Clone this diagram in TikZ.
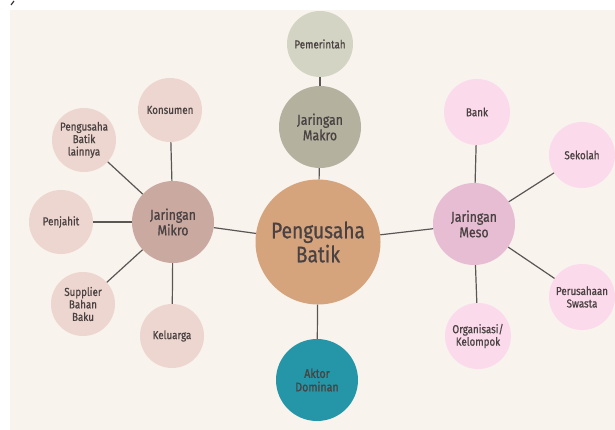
\documentclass[tikz,border=0pt]{standalone}
\usepackage{fontspec}
\setmainfont{Fira Sans}[FakeStretch=0.85, FakeBold=0.8]
\definecolor{bgc}{HTML}{F8F3ED}
\definecolor{linec}{HTML}{5A5654}
\definecolor{txtc}{HTML}{4A4242}
\definecolor{pemc}{HTML}{D4D4C4}
\definecolor{makc}{HTML}{B4B29F}
\definecolor{pbc}{HTML}{D5A47D}
\definecolor{akc}{HTML}{2496A8}
\definecolor{mikc}{HTML}{CAA9A1}
\definecolor{mikl}{HTML}{EED6D0}
\definecolor{mesc}{HTML}{E7BDD3}
\definecolor{mesl}{HTML}{FBDAEB}
\tikzset{
  bub/.style={circle, inner sep=0pt, align=center, text=txtc, font=\fontsize{11.5}{12.5}\selectfont},
  mikleaf/.style={bub, fill=mikl, minimum size=64pt},
  mesleaf/.style={bub, fill=mesl, minimum size=66pt},
  hub/.style={bub, minimum size=82pt, font=\fontsize{14.5}{15.5}\selectfont},
  link/.style={draw=linec, line width=1.2pt}
}
\begin{document}
\begin{tikzpicture}[x=1pt,y=-1pt]
\useasboundingbox (0,0) rectangle (615,430);
\fill[bgc] (10,10) rectangle (615,430);
\draw[line width=1.2pt, black!80] (11,5) -- (14,1);
% center
\node[bub, fill=pbc, minimum size=125pt, font=\fontsize{22.5}{24}\selectfont] (pb) at (318,242) {Pengusaha\\Batik};
% makro
\node[hub, fill=makc] (mak) at (320,127) {Jaringan\\Makro};
\node[bub, fill=pemc, minimum size=66pt] (pem) at (320,44) {Pemerintah};
% aktor
\node[bub, fill=akc, minimum size=82pt, font=\fontsize{12.5}{13.5}\selectfont] (ak) at (317,380) {Aktor\\Dominan};
% mikro
\node[hub, fill=mikc] (mik) at (173,222) {Jaringan\\Mikro};
\node[mikleaf] (kon) at (170,110) {Konsumen};
\node[mikleaf] (pbl) at (84,140) {Pengusaha\\Batik\\lainnya};
\node[mikleaf] (pen) at (61,222) {Penjahit};
\node[mikleaf] (sup) at (83,304) {Supplier\\Bahan\\Baku};
\node[mikleaf] (kel) at (172,336) {Keluarga};
% meso
\node[hub, fill=mesc] (mes) at (474,224) {Jaringan\\Meso};
\node[mesleaf] (bank) at (477,112) {Bank};
\node[mesleaf] (sek) at (582,155) {Sekolah};
\node[mesleaf] (pers) at (582,297) {Perusahaan\\Swasta};
\node[mesleaf] (org) at (478,336) {Organisasi/\\Kelompok};
% links
\draw[link] (pb) -- (mak);
\draw[link] (mak) -- (pem);
\draw[link] (pb) -- (ak);
\draw[link] (pb) -- (mik);
\draw[link] (pb) -- (mes);
\draw[link] (mik) -- (kon);
\draw[link] (mik) -- (pbl);
\draw[link] (mik) -- (pen);
\draw[link] (mik) -- (sup);
\draw[link] (mik) -- (kel);
\draw[link] (mes) -- (bank);
\draw[link] (mes) -- (sek);
\draw[link] (mes) -- (pers);
\draw[link] (mes) -- (org);
\end{tikzpicture}
\end{document}
